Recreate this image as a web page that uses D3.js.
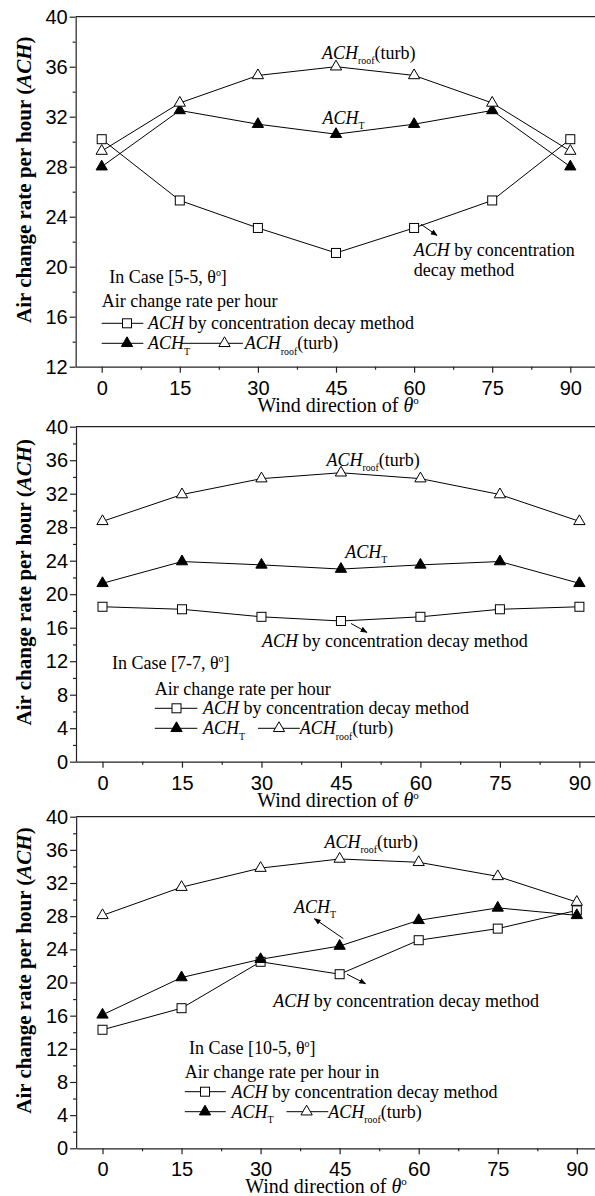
<!DOCTYPE html>
<html>
<head>
<meta charset="utf-8">
<script src="https://cdn.jsdelivr.net/npm/d3@7"></script>
<style>
body { margin: 0; background: #fff; }
svg text { font-family: "Liberation Serif", "Times New Roman", serif; fill: #000; }
.axis text { font-family: "Liberation Sans", Arial, sans-serif; font-size: 20px; }
.axis path, .axis line { stroke: #222; stroke-width: 1.2; }
</style>
</head>
<body>
<div id="draw"></div>
<script>
// wind directions (deg)
const angles = [0, 15, 30, 45, 60, 75, 90];
const xTicks = [0, 15, 30, 45, 60, 75, 90];
const xMinor = [7.5, 22.5, 37.5, 52.5, 67.5, 82.5];

// Case [5-5]
const decay55 = [30.2, 25.3, 23.1, 21.1, 23.1, 25.3, 30.2];
const achT55 = [28.0, 32.5, 31.4, 30.6, 31.4, 32.5, 28.0];
const roof55 = [29.25, 33.1, 35.3, 36.0, 35.3, 33.1, 29.25];
// Case [7-7]
const decay77 = [18.5, 18.2, 17.3, 16.8, 17.3, 18.2, 18.5];
const achT77 = [21.3, 23.9, 23.5, 23.0, 23.5, 23.9, 21.3];
const roof77 = [28.7, 31.9, 33.8, 34.5, 33.8, 31.9, 28.7];
// Case [10-5]
const decay105 = [14.3, 16.9, 22.5, 21.0, 25.1, 26.5, 28.7];
const achT105 = [16.1, 20.6, 22.8, 24.4, 27.5, 29.0, 28.1];
const roof105 = [28.1, 31.5, 33.8, 34.9, 34.5, 32.8, 29.7];

const yTicksTop = [12, 16, 20, 24, 28, 32, 36, 40];
const yTicksFull = [0, 4, 8, 12, 16, 20, 24, 28, 32, 36, 40];

let width = 595, height = 1196;

let svg = d3.select('#draw').append('svg')
    .attr('width', width)
    .attr('height', height);

svg.append('defs').append('marker')
    .attr('id', 'head')
    .attr('viewBox', '0 0 10 10')
    .attr('refX', 9).attr('refY', 5)
    .attr('markerWidth', 7).attr('markerHeight', 7)
    .attr('markerUnits', 'userSpaceOnUse')
    .attr('orient', 'auto')
    .append('path').attr('d', 'M0,1L10,5L0,9z').attr('fill', '#000');

// text with italic / sub / sup pieces
function rich(g, x, y, parts, size, anchor) {
    let t = g.append('text').attr('x', x).attr('y', y)
        .style('font-size', size + 'px')
        .attr('text-anchor', anchor || 'start');
    let shift = 0;
    parts.forEach(p => {
        let target = p.sub ? size * 0.3 : p.sup ? -size * 0.4 : 0;
        let ts = t.append('tspan').text(p.t).attr('dy', target - shift);
        shift = target;
        if (p.i) ts.style('font-style', 'italic');
        if (p.b) ts.style('font-weight', 'bold');
        if (p.sub || p.sup) ts.style('font-size', (size * 0.55) + 'px');
    });
    return t;
}

function marker(g, type, x, y) {
    if (type == 'square') {
        g.append('rect').attr('x', x - 4.5).attr('y', y - 4.5)
            .attr('width', 9).attr('height', 9)
            .attr('fill', '#fff').attr('stroke', '#000').attr('stroke-width', 1);
    } else {
        g.append('path')
            .attr('transform', 'translate(' + x + ',' + y + ')')
            .attr('d', d3.symbol().type(d3.symbolTriangle).size(55)())
            .attr('fill', type == 'filled' ? '#000' : '#fff')
            .attr('stroke', '#000').attr('stroke-width', 1);
    }
}

const achRoof = [{ t: 'ACH', i: true }, { t: 'roof', sub: true }, { t: '(turb)' }];
const achTee = [{ t: 'ACH', i: true }, { t: 'T', sub: true }];
const achDecay = [{ t: 'ACH', i: true }, { t: ' by concentration decay method' }];

let panels = [
    {
        top: 16.7, bottom: 366.7, x0: 101.7, x90: 570.3, yDomain: [12, 40], yTicks: yTicksTop,
        decay: decay55, achT: achT55, roof: roof55, caseName: '5-5', titleX: 338,
        roofLab: [322, 59], tLab: [322.6, 124],
        decayLab: [[413.7, 256, [{ t: 'ACH', i: true }, { t: ' by concentration' }]], [413.7, 276, [{ t: 'decay method' }]]],
        arrows: [[[61.3, 23.4], [64.4, 22.5]]],
        caseLab: [109.3, 283], legTitle: [101.7, 307, 'Air change rate per hour'],
        leg: { x1: 101.7, x2: 143.4, m: 127, tx: 148, y1: 323.3, y2: 343.3, x3: 181.4, x4: 242.9, m2: 224.5, tx2: 244.8 }
    },
    {
        top: 426.7, bottom: 761.7, x0: 102.5, x90: 579.4, yDomain: [0, 40], yTicks: yTicksFull,
        decay: decay77, achT: achT77, roof: roof77, caseName: '7-7', titleX: 338,
        roofLab: [326.4, 466], tLab: [345.3, 558],
        decayLab: [[261.9, 647, achDecay]],
        arrows: [[[46.9, 16.5], [49.9, 15.45]]],
        caseLab: [112, 669], legTitle: [154.8, 695, 'Air change rate per hour'],
        leg: { x1: 154.8, x2: 197.3, m: 176.5, tx: 203, y1: 708.3, y2: 728.3, x3: 258, x4: 299.8, m2: 279, tx2: 299.8 }
    },
    {
        top: 816.7, bottom: 1148.3, x0: 102.5, x90: 576.8, yDomain: [0, 40], yTicks: yTicksFull,
        decay: decay105, achT: achT105, roof: roof105, caseName: '10-5', titleX: 326,
        roofLab: [324.5, 848], tLab: [294.1, 913],
        decayLab: [[273.2, 1007, achDecay]],
        arrows: [[[45.7, 25.3], [40.2, 27.7]], [[46.4, 21.0], [49.9, 19.85]]],
        caseLab: [189, 1054], legTitle: [184.8, 1078, 'Air change rate per hour in'],
        leg: { x1: 184.8, x2: 225.8, m: 205, tx: 231.5, y1: 1091.7, y2: 1111.7, x3: 286.5, x4: 328.3, m2: 306.6, tx2: 328.3 }
    }
];

panels.forEach(p => {
    let unit = (p.x90 - p.x0) / 90;
    let xScale = d3.scaleLinear().domain([-5, 95]).range([p.x0 - 5 * unit, p.x0 + 95 * unit]);
    let yScale = d3.scaleLinear().domain(p.yDomain).range([p.bottom, p.top]);
    let left = xScale(-5);
    let g = svg.append('g');

    // frame top line (right side is cut off)
    g.append('line').attr('x1', left).attr('x2', width + 20)
        .attr('y1', p.top).attr('y2', p.top)
        .attr('stroke', '#222').attr('stroke-width', 1.2);

    g.append('g').attr('class', 'axis')
        .attr('transform', 'translate(0,' + p.bottom + ')')
        .call(d3.axisBottom(xScale).tickValues(xTicks).tickSize(6).tickSizeOuter(0).tickPadding(8));
    g.append('g').attr('class', 'axis')
        .attr('transform', 'translate(0,' + p.bottom + ')')
        .call(d3.axisBottom(xScale).tickValues(xMinor).tickSize(3).tickFormat(''))
        .select('.domain').remove();

    let yMinor = d3.range(p.yDomain[0] + 2, p.yDomain[1], 4);
    g.append('g').attr('class', 'axis')
        .attr('transform', 'translate(' + left + ',0)')
        .call(d3.axisLeft(yScale).tickValues(p.yTicks).tickSize(6).tickSizeOuter(0).tickPadding(2));
    g.append('g').attr('class', 'axis')
        .attr('transform', 'translate(' + left + ',0)')
        .call(d3.axisLeft(yScale).tickValues(yMinor).tickSize(3).tickFormat(''))
        .select('.domain').remove();

    // axis titles
    let yt = g.append('text')
        .attr('transform', 'translate(31,' + ((p.top + p.bottom) / 2 - 12) + ') rotate(-90)')
        .attr('text-anchor', 'middle')
        .style('font-size', '21px').style('font-weight', 'bold');
    yt.append('tspan').text('Air change rate per hour (');
    yt.append('tspan').text('ACH').style('font-style', 'italic');
    yt.append('tspan').text(')');

    rich(g, p.titleX, p.bottom + 45,
        [{ t: 'Wind direction of ' }, { t: 'θ', i: true }, { t: 'o', sup: true }], 20, 'middle');

    // series
    let line = d3.line().x((d, i) => xScale(angles[i])).y(d => yScale(d));
    [[p.decay, 'square'], [p.achT, 'filled'], [p.roof, 'open']].forEach(s => {
        g.append('path').attr('d', line(s[0]))
            .attr('fill', 'none').attr('stroke', '#000').attr('stroke-width', 1);
    });
    [[p.decay, 'square'], [p.achT, 'filled'], [p.roof, 'open']].forEach(s => {
        s[0].forEach((v, i) => marker(g, s[1], xScale(angles[i]), yScale(v)));
    });

    // annotations
    rich(g, p.roofLab[0], p.roofLab[1], achRoof, 18);
    rich(g, p.tLab[0], p.tLab[1], achTee, 18);
    p.decayLab.forEach(d => rich(g, d[0], d[1], d[2], 18));
    p.arrows.forEach(a => {
        g.append('line')
            .attr('x1', xScale(a[0][0])).attr('y1', yScale(a[0][1]))
            .attr('x2', xScale(a[1][0])).attr('y2', yScale(a[1][1]))
            .attr('stroke', '#000').attr('stroke-width', 1)
            .attr('marker-end', 'url(#head)');
    });

    // legend
    rich(g, p.caseLab[0], p.caseLab[1],
        [{ t: 'In Case [' + p.caseName + ', θ' }, { t: 'o', sup: true }, { t: ']' }], 18);
    rich(g, p.legTitle[0], p.legTitle[1], [{ t: p.legTitle[2] }], 18);
    let L = p.leg;
    [[L.y1, L.x1, L.x2, L.m, 'square'], [L.y2, L.x1, L.x2, L.m, 'filled'], [L.y2, L.x3, L.x4, L.m2, 'open']].forEach(r => {
        g.append('line').attr('x1', r[1]).attr('x2', r[2]).attr('y1', r[0]).attr('y2', r[0])
            .attr('stroke', '#000').attr('stroke-width', 1);
        marker(g, r[4], r[3], r[0]);
    });
    rich(g, L.tx, L.y1 + 6, achDecay, 18);
    rich(g, L.tx, L.y2 + 6, achTee, 18);
    rich(g, L.tx2, L.y2 + 6, achRoof, 18);
});
</script>
</body>
</html>
